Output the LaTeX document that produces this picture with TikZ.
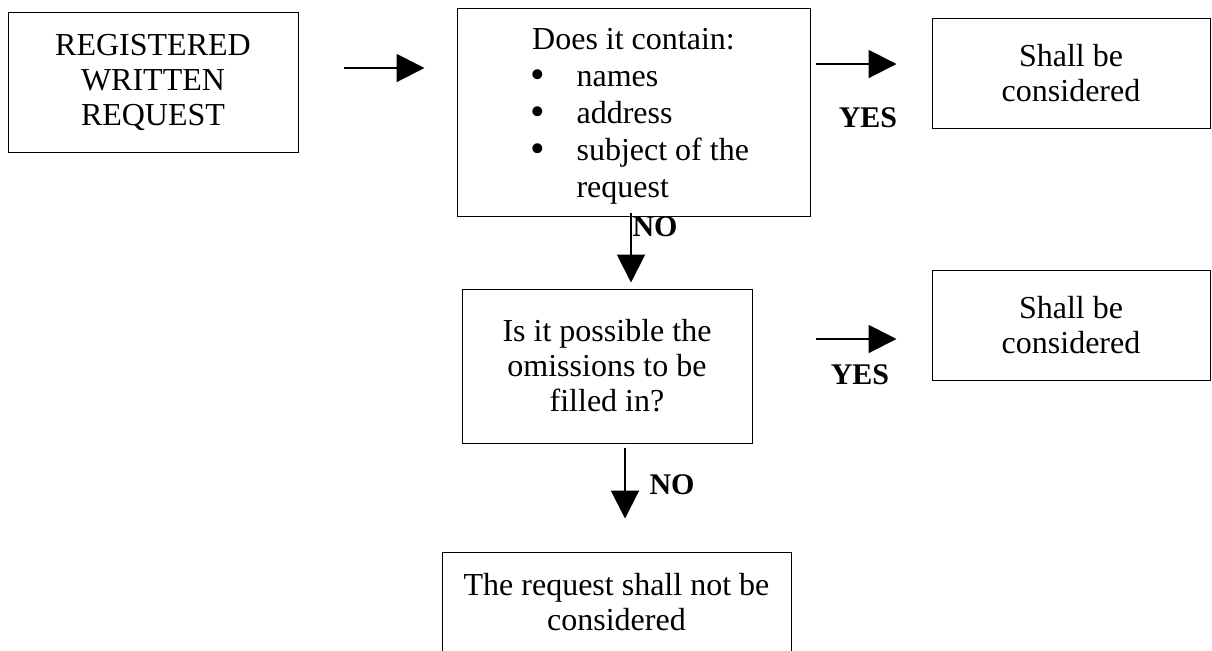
\documentclass[tikz,border=0pt]{standalone}
\usepackage{fontspec}
\setmainfont{Liberation Serif}
\usetikzlibrary{arrows.meta}

\tikzset{
	box/.style={draw, line width=0.5pt, inner sep=0pt, align=center, font=\fontsize{16}{17.5}\selectfont},
	flow/.style={line width=1pt, -{Triangle[length=14pt,width=14pt]}},
	answer/.style={font=\fontsize{15}{17}\selectfont\bfseries},
}
\newcommand{\bigbullet}{\raisebox{-1pt}[0pt][0pt]{\scalebox{1.3}{\textbullet}}}

\begin{document}
\begin{tikzpicture}[x=0.5pt,y=-0.5pt]
	
	\useasboundingbox (0,0) rectangle (1212,650);
	
	\node[box, minimum width=145pt, minimum height=70pt] (request) at (153,82) {REGISTERED\\WRITTEN\\REQUEST};
	\node[box, minimum width=176.5pt, minimum height=104pt, font=\fontsize{16}{18.5}\selectfont] (contain) at (633.5,112) {%
		\raisebox{-2pt}[\height][\depth]{%
		\begin{tabular}{@{\hspace{6pt}}l@{\hspace{16pt}}l@{}}
			\multicolumn{2}{c}{Does it contain:}\\
			\bigbullet & names\\
			\bigbullet & address\\
			\bigbullet & subject of the\\
			& request
		\end{tabular}}};
	\node[box, minimum width=139pt, minimum height=55pt] (accept) at (1071,73) {Shall be\\considered};
	\node[box, minimum width=145pt, minimum height=77pt] (fillin) at (607,366) {Is it possible the\\omissions to be\\filled in?};
	\node[box, minimum width=139pt, minimum height=55pt] (acceptb) at (1071,325) {Shall be\\considered};
	\node[box, minimum width=174.5pt, minimum height=50pt] (reject) at (616.5,602) {The request shall not be\\considered};
	
	\coordinate (a) at ([yshift=7pt]request.east);
	\draw[flow, shorten <=22.5pt, shorten >=16pt] (a) -- (a -| contain.west);
	\coordinate (b) at ([yshift=4.5pt]accept.west);
	\draw[flow, shorten <=2.5pt, shorten >=17.5pt] (b -| contain.east) -- (b);
	\coordinate (c) at ([xshift=-1.25pt]contain.south);
	\draw[flow, shorten <=-2pt, shorten >=3pt] (c) -- (c |- fillin.north);
	\coordinate (d) at ([yshift=-7pt]acceptb.west);
	\draw[flow, shorten <=31.5pt, shorten >=17.5pt] (d -| fillin.east) -- (d);
	\coordinate (e) at ([xshift=9pt]fillin.south);
	\draw[flow, shorten <=2pt, shorten >=16.5pt] (e) -- (e |- reject.north);
	
	\node[answer] (yesa) at (868,118) {YES};
	\node[answer] (noa) at (655,227) {NO};
	\node[answer] (yesb) at (860,375) {YES};
	\node[answer] (nob) at (672,485) {NO};
	
\end{tikzpicture}
\end{document}
